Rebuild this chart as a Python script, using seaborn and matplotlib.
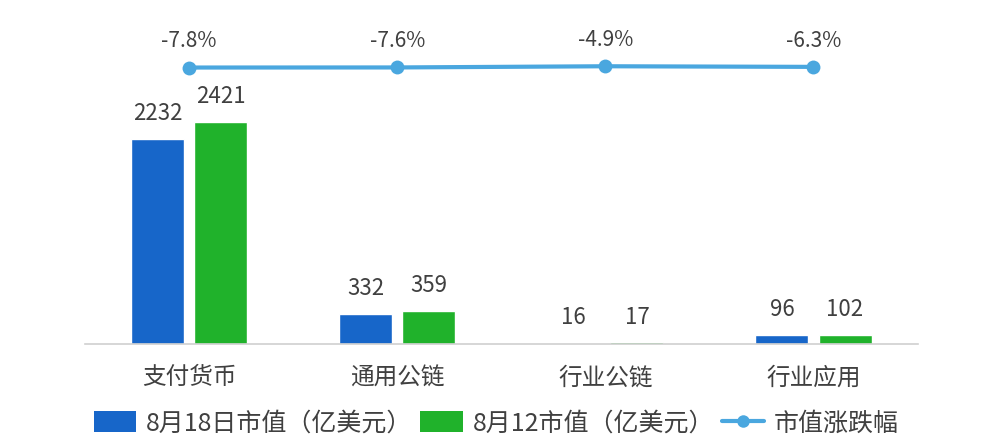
import pandas as pd
import matplotlib.pyplot as plt
import seaborn as sns
from matplotlib.patches import Patch
from matplotlib.lines import Line2D

# 数据
categories = ["支付货币", "通用公链", "行业公链", "行业应用"]
cap_0818 = [2232, 332, 16, 96]
cap_0812 = [2421, 359, 17, 102]
change_pct = [-7.8, -7.6, -4.9, -6.3]
series_names = ["8月18日市值（亿美元）", "8月12市值（亿美元）", "市值涨跌幅"]

blue = "#1766c9"
green = "#20b22b"
line_c = "#4aa7df"
txt_c = "#404040"

sns.set_style("white")
plt.rcParams["font.family"] = ["Noto Sans CJK SC", "DejaVu Sans"]

df = pd.DataFrame({
    "类别": categories * 2,
    "市值": cap_0818 + cap_0812,
    "系列": [series_names[0]] * 4 + [series_names[1]] * 4,
})

fig = plt.figure(figsize=(10.05, 4.41), dpi=100)
ax = fig.add_axes([0.0846, 0.22, 0.8284, 0.7346])

sns.barplot(data=df, x="类别", y="市值", hue="系列", order=categories,
            palette=[blue, green], width=0.606, gap=0.159, saturation=1,
            legend=False, ax=ax)

for cont in ax.containers:
    ax.bar_label(cont, fmt="%d", padding=10, fontsize=16, color=txt_c)

ax.set_xlim(-0.5, 3.5)
ax.set_ylim(0, 3533)
ax.set_xlabel("")
ax.set_ylabel("")
ax.set_yticks([])
ax.tick_params(axis="x", length=0, labelsize=17, labelcolor=txt_c, pad=16)
for s in ["top", "right", "left"]:
    ax.spines[s].set_visible(False)
ax.spines["bottom"].set_color("#d0d0d0")
ax.spines["bottom"].set_linewidth(1.2)

# 涨跌幅折线（次坐标轴）
ax2 = ax.twinx()
sns.lineplot(x=list(range(4)), y=change_pct, color=line_c, linewidth=3,
             marker="o", markersize=10, markeredgewidth=0, ax=ax2)
ax2.set_ylim(-635, 100)
ax2.set_xlim(-0.5, 3.5)
ax2.axis("off")
for i, v in enumerate(change_pct):
    ax2.annotate(f"{v}%", (i, v), xytext=(0, 11), textcoords="offset points",
                 ha="center", va="bottom", fontsize=15, color=txt_c)

handles = [
    Patch(facecolor=blue, edgecolor="none"),
    Patch(facecolor=green, edgecolor="none"),
    Line2D([], [], color=line_c, linewidth=3, marker="o", markersize=9,
           markeredgewidth=0),
]
fig.legend(handles, series_names, loc="center", bbox_to_anchor=(0.494, 0.04),
           ncol=3, frameon=False, fontsize=18, handlelength=1.7,
           handleheight=0.9, handletextpad=0.4, columnspacing=0.3,
           labelcolor=txt_c)

fig.savefig("out.png", dpi=100)
